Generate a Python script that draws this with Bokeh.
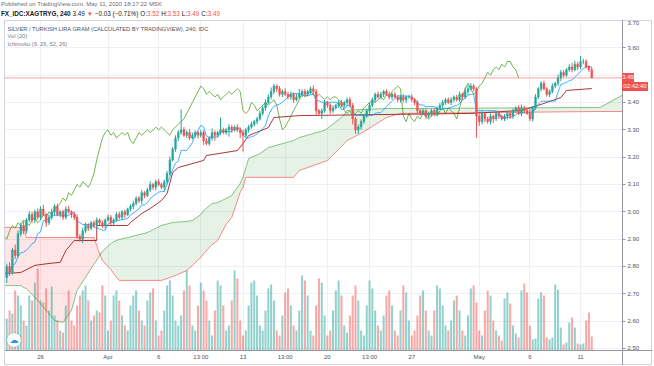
from bokeh.plotting import figure
from bokeh.layouts import column
from bokeh.models import Range1d, FixedTicker, Label, Span, ColumnDataSource, Div
from bokeh.embed import file_html
from bokeh.resources import INLINE

# ---------------- data ----------------
closes = [
    2.80, 2.78, 2.86, 2.84, 2.92, 2.95, 2.93, 2.97, 2.99,
    2.97, 3.00, 2.98, 3.01, 2.99, 2.96, 2.98, 3.00, 3.02, 2.99, 3.00, 2.98, 3.01, 3.00, 2.99, 2.98,
    2.91, 2.90, 2.93, 2.95,
    2.94, 2.96, 2.95, 2.97, 2.96, 2.95, 2.97, 2.98, 2.96, 2.97, 2.99, 2.98, 3.00, 2.99, 3.01, 3.02,
    3.03, 3.05, 3.04, 3.07, 3.06, 3.08,
    3.10, 3.09, 3.11, 3.10, 3.09,
    3.11, 3.14, 3.19, 3.23, 3.27, 3.29, 3.30, 3.28, 3.29, 3.27,
    3.28, 3.29, 3.28, 3.29, 3.26, 3.25, 3.27, 3.29, 3.28, 3.29,
    3.30, 3.29, 3.30, 3.31, 3.30, 3.31, 3.30, 3.29, 3.28, 3.30,
    3.31, 3.32, 3.33, 3.34, 3.36, 3.38, 3.40, 3.42, 3.44, 3.46,
    3.45, 3.43, 3.44, 3.43, 3.42, 3.43, 3.41, 3.42, 3.43, 3.44,
    3.43, 3.44, 3.45, 3.44, 3.37, 3.36, 3.37, 3.40, 3.39, 3.37,
    3.38, 3.39, 3.40, 3.39, 3.40, 3.41, 3.39, 3.34, 3.30, 3.31,
    3.33, 3.35, 3.37, 3.39, 3.41, 3.43, 3.42, 3.43, 3.44, 3.43,
    3.42, 3.43, 3.42, 3.41, 3.42, 3.41, 3.42, 3.42, 3.41, 3.40,
    3.37, 3.36, 3.37, 3.35, 3.36, 3.37, 3.36, 3.38, 3.39, 3.40,
    3.41, 3.40, 3.41, 3.42, 3.41, 3.43, 3.42, 3.44, 3.45, 3.46,
    3.45, 3.35, 3.33, 3.36, 3.34, 3.33, 3.35, 3.34, 3.36, 3.35,
    3.34, 3.35, 3.36, 3.35, 3.37, 3.38, 3.36, 3.38, 3.37, 3.36,
    3.34, 3.38, 3.42, 3.45, 3.47, 3.45, 3.43, 3.44, 3.46, 3.47,
    3.49, 3.51, 3.50, 3.52, 3.53, 3.52, 3.54, 3.53, 3.55, 3.55,
    3.53, 3.52, 3.49,
]
first_open = 2.76
# wick lengths in thousandths of a lira
wick_up = [
    10, 15, 8, 20, 12, 10, 15, 8, 12, 10,
    8, 12, 10, 15, 6, 10, 12, 8, 10, 6,
    8, 10, 12, 6, 8, 10, 8, 12, 10, 8,
    6, 8, 10, 6, 8, 5, 10, 8, 6, 8,
    10, 6, 8, 5, 8, 10, 6, 8, 10, 6,
    8, 12, 6, 8, 10, 6, 8, 10, 12, 8,
    10, 8, 75, 10, 8, 12, 10, 8, 6, 10,
    8, 10, 6, 15, 8, 6, 45, 8, 6, 10,
    8, 6, 10, 8, 10, 6, 8, 10, 6, 8,
    10, 8, 12, 10, 15, 8, 6, 10, 8, 12,
    8, 10, 6, 12, 20, 8, 10, 6, 8, 12,
    10, 6, 8, 10, 6, 8, 10, 6, 8, 10,
    6, 8, 10, 8, 6, 10, 8, 6, 8, 10,
    8, 6, 10, 8, 6, 8, 10, 6, 8, 6,
    8, 10, 6, 8, 10, 6, 8, 6, 10, 8,
    6, 8, 10, 6, 8, 10, 6, 8, 10, 6,
    8, 10, 6, 15, 12, 10, 8, 6, 10, 8,
    6, 8, 10, 6, 8, 10, 6, 8, 6, 10,
    8, 6, 10, 12, 8, 10, 15, 8, 10, 6,
    8, 10, 6, 8, 10, 6, 12, 10, 8, 6,
    10, 15, 12, 8, 20, 10, 8, 6, 10,
]
wick_dn = [
    20, 15, 10, 12, 8, 10, 12, 10, 8, 10,
    12, 8, 10, 6, 15, 8, 10, 12, 6, 10,
    10, 8, 6, 12, 10, 8, 10, 15, 8, 10,
    8, 10, 6, 8, 10, 12, 6, 8, 10, 6,
    8, 10, 12, 6, 8, 10, 6, 8, 12, 10,
    6, 8, 10, 12, 6, 8, 15, 10, 8, 6,
    10, 12, 8, 6, 10, 8, 6, 10, 12, 8,
    15, 6, 8, 10, 20, 8, 10, 6, 8, 25,
    10, 6, 8, 20, 60, 8, 10, 6, 8, 10,
    6, 8, 10, 6, 8, 10, 12, 8, 10, 6,
    8, 10, 12, 6, 8, 10, 6, 8, 10, 12,
    15, 10, 20, 8, 10, 12, 8, 6, 10, 8,
    10, 12, 8, 20, 15, 15, 10, 8, 6, 10,
    8, 10, 6, 8, 10, 6, 8, 10, 6, 8,
    10, 8, 12, 6, 8, 10, 12, 8, 6, 10,
    8, 12, 10, 8, 6, 10, 8, 6, 10, 8,
    6, 8, 10, 8, 12, 6, 10, 80, 15, 10,
    12, 8, 10, 15, 8, 10, 6, 8, 12, 10,
    10, 8, 6, 10, 8, 6, 8, 10, 6, 8,
    10, 6, 8, 10, 6, 8, 10, 12, 8, 6,
    8, 10, 6, 12, 8, 10, 6, 8, 0,
]
volumes = [
    32, 40, 37, 60, 55, 45,   30, 25, 55, 50, 68, 82,   50, 48, 62, 40, 64, 35,
    30, 20, 18, 45, 60, 30,   25, 45, 55, 60, 65, 50,   30, 35, 40, 38, 65, 55,
    20, 30, 55, 60, 50, 35,   25, 20, 45, 55, 60, 40,   30, 25, 50, 58, 62, 30,
    15, 20, 40, 65, 70, 55,   30, 25, 35, 60, 80, 65,   25, 20, 45, 68, 60, 50,
    30, 15, 40, 70, 65, 45,   20, 25, 50, 80, 72, 30,   15, 20, 45, 68, 70, 55,
    25, 20, 40, 62, 66, 50,   20, 15, 35, 58, 62, 45,   25, 20, 40, 75, 70, 55,
    20, 15, 45, 72, 68, 35,   15, 20, 40, 60, 70, 55,   25, 18, 35, 55, 65, 50,
    20, 15, 45, 70, 62, 40,   25, 20, 35, 55, 60, 45,   20, 15, 40, 65, 58, 30,
    15, 20, 35, 55, 60, 40,   20, 15, 40, 65, 62, 45,   25, 20, 30, 50, 55, 40,
    20, 15, 35, 62, 65, 48,   20, 15, 40, 60, 55, 30,   20, 15, 10, 52, 58, 47,
    25, 17, 13, 60, 67, 58,   25, 11, 12, 52, 58, 55,   13, 11, 13, 66, 61, 23,
    6, 8, 28, 33, 23, 7,      6, 7, 30, 38, 14,
]

# Ichimoku leading spans (cloud): bar index -> price
span_idx = [-1, 5, 6, 7, 11, 17, 20, 23, 25, 30,
            31, 33, 34, 37, 38, 40, 43, 50, 55, 59,
            64, 66, 69, 70, 73, 75, 78, 80, 83, 84,
            85, 86, 90, 93, 102, 104, 113, 114, 119, 120,
            121, 126, 135, 140, 211, 220]
span_a = [2.730, 2.730, 2.723, 2.719, 2.676, 2.602, 2.595, 2.639, 2.712, 2.793,
          2.807, 2.840, 2.855, 2.884, 2.891, 2.899, 2.906, 2.924, 2.950, 2.961,
          2.965, 2.968, 2.990, 3.005, 3.030, 3.034, 3.049, 3.060, 3.104, 3.126,
          3.162, 3.195, 3.213, 3.235, 3.261, 3.272, 3.298, 3.305, 3.345, 3.356,
          3.371, 3.374, 3.378, 3.378, 3.382, 3.433]
span_b = [2.943, 2.943, 2.943, 2.906, 2.906, 2.906, 2.906, 2.906, 2.906, 2.906,
          2.906, 2.847, 2.822, 2.789, 2.774, 2.749, 2.749, 2.749, 2.749, 2.763,
          2.785, 2.804, 2.833, 2.847, 2.880, 2.895, 2.954, 2.979, 3.071, 3.089,
          3.126, 3.126, 3.126, 3.126, 3.126, 3.151, 3.184, 3.188, 3.239, 3.250,
          3.261, 3.287, 3.345, 3.360, 3.367, 3.367]
# Ichimoku base line
kijun_idx = [-1, 5, 10, 15, 19, 21, 24, 32, 32, 43, 44, 48, 51, 55, 57, 59, 61, 70, 71, 82,
             84, 86, 93, 95, 104, 165, 183, 190, 197, 199, 208]
kijun = [2.774, 2.778, 2.804, 2.811, 2.815, 2.858, 2.895, 2.895, 2.950, 2.950, 2.961, 2.994,
         3.012, 3.041, 3.067, 3.144, 3.162, 3.188, 3.206, 3.224, 3.250, 3.279, 3.308, 3.345,
         3.352, 3.360, 3.371, 3.393, 3.418, 3.444, 3.451]

price_ticks = [2.50, 2.60, 2.70, 2.80, 2.90, 3.00, 3.10, 3.20, 3.30, 3.40, 3.50, 3.60, 3.70]
time_tick_idx = [12, 36, 54, 69, 84, 99, 114, 129, 144, 168, 186, 204]
time_tick_labels = ["26", "Apr", "6", "13:00", "13", "13:00", "20", "13:00", "27", "May", "6", "11"]
last_price = 3.49
countdown = "02:42:40"

# ---------------- derived ----------------
n = len(closes)
idx = list(range(n))
opens = [first_open] + closes[:-1]
highs = [max(o, c) + u / 1000 for o, c, u in zip(opens, closes, wick_up)]
lows = [min(o, c) - d / 1000 for o, c, d in zip(opens, closes, wick_dn)]
UP, DN = "#26a69a", "#ef5350"
col = [UP if c >= o else DN for o, c in zip(opens, closes)]
src = ColumnDataSource(dict(x=idx, o=opens, c=closes, h=highs, l=lows,
                            top=[max(o, c) for o, c in zip(opens, closes)],
                            bot=[min(o, c) for o, c in zip(opens, closes)],
                            col=col, vol=volumes))
tenkan = []
for i in range(n):
    lo = max(0, i - 8)
    tenkan.append((max(highs[lo:i + 1]) + min(lows[lo:i + 1])) / 2)

FONT = "Liberation Sans"
HEAD_H = 20

p = figure(width=654, height=366 - HEAD_H, x_range=Range1d(-0.8, 218.93), y_range=Range1d(2.4925, 3.70),
           output_backend="svg", toolbar_location=None, y_axis_location="right",
           min_border_left=4, min_border_right=32, min_border_top=0, min_border_bottom=16,
           background_fill_color="white", border_fill_color="white", margin=0)
p.outline_line_color = "#c9ccd3"

# axes
ya = p.yaxis[0]
ya.ticker = FixedTicker(ticks=price_ticks)
ya.major_label_overrides = {t: ("" if abs(t - 3.5) < 1e-9 else f"{t:.2f}") for t in price_ticks}
ya.major_label_text_font_size = "6px"
ya.major_label_text_font = FONT
ya.major_label_text_color = "#50535e"
ya.major_tick_out = 3
ya.major_tick_in = 0
ya.minor_tick_out = 0
ya.minor_tick_in = 0
ya.major_tick_line_color = "#9598a1"
ya.axis_line_color = "#9598a1"
ya.major_label_standoff = 2

xa = p.xaxis[0]
xa.ticker = FixedTicker(ticks=time_tick_idx)
xa.major_label_overrides = {t: s for t, s in zip(time_tick_idx, time_tick_labels)}
xa.major_label_text_font_size = "6px"
xa.major_label_text_font = FONT
xa.major_label_text_color = "#50535e"
xa.major_tick_out = 0
xa.major_tick_in = 0
xa.minor_tick_out = 0
xa.minor_tick_in = 0
xa.axis_line_color = "#9598a1"
xa.major_label_standoff = 3

p.ygrid.ticker = FixedTicker(ticks=price_ticks)
p.xgrid.ticker = FixedTicker(ticks=time_tick_idx)
p.grid.grid_line_color = "#eef0f5"

# cloud
ga = [max(a, b) for a, b in zip(span_a, span_b)]
p.varea(x=span_idx, y1=span_b, y2=ga, fill_color="#008000", fill_alpha=0.1)
p.varea(x=span_idx, y1=span_a, y2=ga, fill_color="#ff0000", fill_alpha=0.1)

# volume
p.extra_y_ranges = {"vol": Range1d(0, 330)}
p.vbar(x="x", top="vol", bottom=0, width=0.72, source=src, y_range_name="vol",
       fill_color="col", line_color=None, fill_alpha=0.5)

# ichimoku lines
p.line(span_idx, span_a, line_color="#008000", line_alpha=0.45, line_width=1)
p.line(span_idx, span_b, line_color="#ff0000", line_alpha=0.45, line_width=1)
p.line([i - 26 for i in idx], closes, line_color="#459915", line_alpha=0.75, line_width=1)
p.line(kijun_idx, kijun, line_color="#991515", line_alpha=0.85, line_width=1)
p.line(idx, tenkan, line_color="#0496ff", line_alpha=0.75, line_width=1)

# price line
p.add_layout(Span(location=last_price, dimension="width", line_color="#ef5350",
                  line_alpha=0.55, line_width=1))

# candles
p.segment(x0="x", y0="l", x1="x", y1="h", source=src, line_color="col", line_width=1)
p.vbar(x="x", top="top", bottom="bot", width=0.62, source=src, fill_color="col", line_color="col",
       line_width=0.5)


def lab(txt, cx, cy, size="6px", color="#50535e", font=FONT):
    p.add_layout(Label(x=cx - 4, y=350 - cy, x_units="screen", y_units="screen", text=txt,
                       text_font=font, text_font_size=size, text_color=color,
                       text_baseline="middle"))


lab("SILVER / TURKISH LIRA GRAM (CALCULATED BY TRADINGVIEW), 240, IDC", 7, 28, size="5.7px", color="#4c525e")
lab("Vol (20)", 7, 35.5, size="5.7px", color="#787b86")
lab("Ichimoku (9, 26, 52, 26)", 7, 43.5, size="5.7px", color="#787b86")

RED = "#ef5350"


def red(s):
    return f'<span style="color:{RED}">{s}</span>'


def gap(s):
    return f'<span style="margin-left:2px">{s}</span>'


header_html = (
    f'<div style="position:relative;width:654px;height:{HEAD_H}px;font-family:\'Liberation Sans\';">'
    '<div style="position:absolute;left:1px;top:1px;font-size:6px;line-height:7px;color:#6a6d78;'
    'white-space:nowrap">Published on TradingView.com, May 11, 2020 18:17:22 MSK</div>'
    '<div style="position:absolute;left:1px;top:10px;font-size:6.3px;line-height:8px;color:#131722;'
    'white-space:nowrap"><b>FX_IDC:XAGTRYG, 240</b>'
    + gap("3.49") + gap(red("&#9660;")) + gap("&minus;0.03 (&minus;0.71%)")
    + gap("O:" + red("3.52")) + gap("H:" + red("3.53")) + gap("L:" + red("3.49"))
    + gap("C:" + red(f"{last_price:.2f}")) + '</div>'
    + f'<div style="position:absolute;left:622px;top:73px;width:12px;height:9px;background:{RED};'
    f'color:white;font-size:6px;line-height:9px;text-align:center;z-index:20">{last_price:.2f}</div>'
    f'<div style="position:absolute;left:622px;top:82px;width:26px;height:9px;background:{RED};'
    f'color:white;font-size:6px;line-height:9px;text-align:center;z-index:20">{countdown}</div>'
    '<div style="position:absolute;left:4px;top:20px;width:648px;height:345px;'
    'border:1px solid #d1d4dc;box-sizing:border-box;pointer-events:none;z-index:15"></div>'
    '<div style="position:absolute;left:622px;top:20px;width:1px;height:345px;'
    'background:#9598a1;pointer-events:none;z-index:15"></div>'
    '<div style="position:absolute;left:622px;top:350px;width:30px;height:1px;'
    'background:#9598a1;pointer-events:none;z-index:15"></div>'
    '<div style="position:absolute;left:7px;top:333px;width:14px;height:14px;border-radius:7px;'
    'background:white;box-shadow:0 0 2px rgba(0,0,0,0.35);z-index:20;text-align:center;'
    'font-family:\'DejaVu Sans\';font-size:9px;line-height:14px;color:#2196f3">&#9729;</div>'
    '</div>'
)
header = Div(text=header_html, width=654, height=HEAD_H, margin=0,
             styles={"overflow": "visible", "position": "relative", "z-index": "10"})

layout = column(header, p, spacing=0, margin=0)
open("out.html", "w").write(file_html(layout, INLINE))
